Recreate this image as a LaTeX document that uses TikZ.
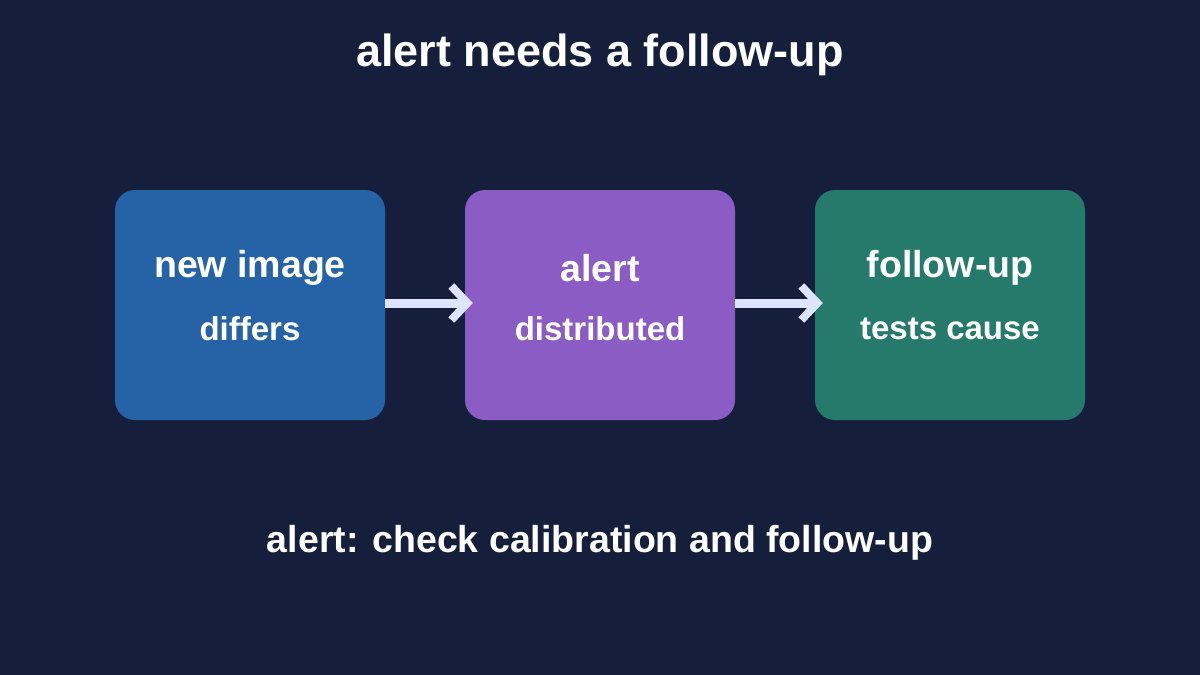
\documentclass[tikz,border=0pt]{standalone}
\usepackage{fontspec}
\setmainfont{Liberation Sans}
\usetikzlibrary{arrows.meta}
\begin{document}
\begin{tikzpicture}[x=1pt,y=-1pt,
  box/.style={rounded corners=20pt,minimum width=270pt,minimum height=230pt,inner sep=0pt},
  lbl/.style={text=white,font=\bfseries,align=center},
  arr/.style={draw=arrowc,line width=9pt,-{Straight Barb[length=16pt,width=34pt,line width=8pt]}}]
\definecolor{bg}{HTML}{151F3B}
\definecolor{c1}{HTML}{2563A6}
\definecolor{c2}{HTML}{8B5CC4}
\definecolor{c3}{HTML}{267A6C}
\definecolor{arrowc}{HTML}{DCE4FF}
\fill[bg] (0,0) rectangle (1200,675);
\useasboundingbox (0,0) rectangle (1200,675);
\node[lbl,font=\bfseries\fontsize{45}{48}\selectfont] (t) at (600,55) {alert needs a follow-up};
\node[box,fill=c1] (a) at (250,305) {};
\node[box,fill=c2] (b) at (600,305) {};
\node[box,fill=c3] (c) at (950,305) {};
\foreach \n/\p/\q in {a/new image/differs,b/alert/distributed,c/follow-up/tests cause}{
  \node[lbl,font=\bfseries\fontsize{37.5}{40}\selectfont] (\n1) at ([yshift=37pt]\n.center) {\p};
  \node[lbl,font=\bfseries\fontsize{33}{36}\selectfont] (\n2) at ([yshift=-24pt]\n.center) {\q};
}
\draw[arr] (a.east |- 0,303) -- ([xshift=8pt]b.west |- 0,303);
\draw[arr] (b.east |- 0,303) -- ([xshift=8pt]c.west |- 0,303);
\node[lbl,font=\bfseries\fontsize{37.5}{40}\selectfont] (f) at (600,543) {alert: check calibration and follow-up};
\end{tikzpicture}
\end{document}
